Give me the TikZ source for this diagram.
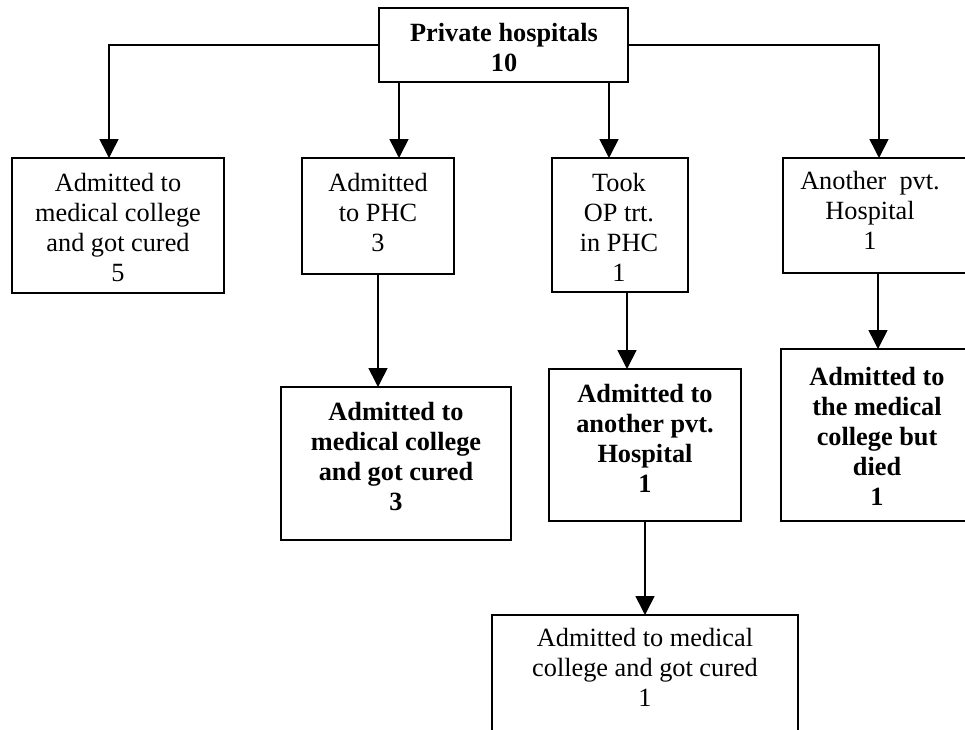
\documentclass[tikz,border=0pt]{standalone}
\usepackage{fontspec}
\setmainfont{Liberation Serif}
\usetikzlibrary{arrows.meta}
\tikzset{
  box/.style={draw, line width=1.6pt, outer sep=0pt, inner sep=0pt, anchor=north west},
  txt/.style={align=center, anchor=north, inner sep=0pt, font=\fontsize{26.3}{30}\selectfont},
  btxt/.style={txt, font=\fontsize{26.3}{30}\selectfont\bfseries},
  arr/.style={line width=1.6pt, -{Triangle[width=19pt,length=19pt]}}
}
\begin{document}
\begin{tikzpicture}[x=1pt, y=-1pt]
\fill[white] (0,0) rectangle (965,729);
\useasboundingbox (0,0) rectangle (965,729);
% boxes
\node[box, minimum width=249pt, minimum height=74pt] (top) at (379,8) {};
\node[box, minimum width=212pt, minimum height=135pt] (b1) at (12,158) {};
\node[box, minimum width=152pt, minimum height=116pt] (b2) at (302,158) {};
\node[box, minimum width=136pt, minimum height=134pt] (b3) at (552,158) {};
\node[box, minimum width=192pt, minimum height=115pt] (b4) at (783,158) {};
\node[box, minimum width=230pt, minimum height=153pt] (b5) at (281,387) {};
\node[box, minimum width=192pt, minimum height=152pt] (b6) at (549,369) {};
\node[box, minimum width=194pt, minimum height=172pt] (b7) at (781,349) {};
\node[box, minimum width=306pt, minimum height=145pt] (b8) at (492,615) {};
% texts
\node[btxt] (t0) at (504,20) {\strut Private hospitals\\10};
\node[txt] (t1) at (118,170) {\strut Admitted to\\medical college\\and got cured\\5};
\node[txt] (t2) at (378,170) {\strut Admitted\\to PHC\\3};
\node[txt] (t3) at (619,170) {\strut Took\\OP trt.\\in PHC\\1};
\node[txt] (t4) at (870,168) {\strut Another\ \ pvt.\\Hospital\\1};
\node[btxt] (t5) at (396,399) {\strut Admitted to\\medical college\\and got cured\\3};
\node[btxt] (t6) at (645,381) {\strut Admitted to\\another pvt.\\Hospital\\1};
\node[btxt] (t7) at (877,364) {\strut Admitted to\\the medical\\college but\\died\\1};
\node[txt] (t8) at (645,625) {\strut Admitted to medical\\college and got cured\\1};
% arrow end points on box tops
\coordinate (c1) at (109,158);
\coordinate (c2) at (399,158);
\coordinate (c3) at (609,158);
\coordinate (c4) at (879,158);
\coordinate (c6) at (627,369);
\coordinate (c7) at (878,349);
% connectors
\draw[arr] (top.west) -| (c1);
\draw[arr] (c2 |- top.south) -- (c2);
\draw[arr] (c3 |- top.south) -- (c3);
\draw[arr] (top.east) -| (c4);
\draw[arr] (b2.south) -- (b2.south |- b5.north);
\draw[arr] (c6 |- b3.south) -- (c6);
\draw[arr] (c7 |- b4.south) -- (c7);
\draw[arr] (b6.south) -- (b8.north);
\end{tikzpicture}
\end{document}
